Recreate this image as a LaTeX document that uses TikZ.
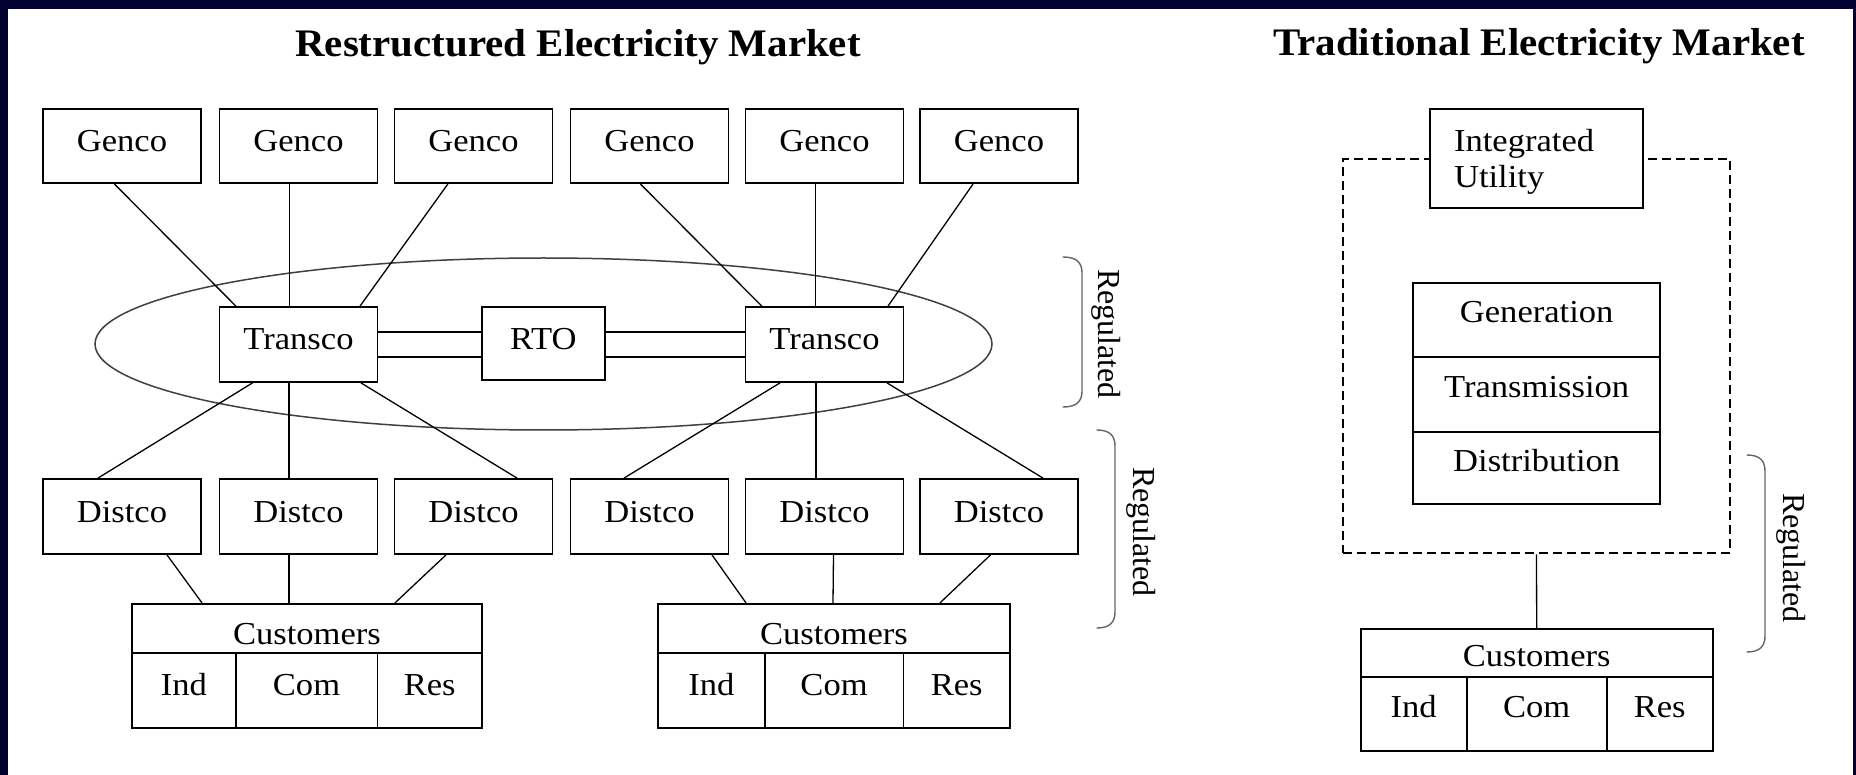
\documentclass[tikz,border=0pt]{standalone}
\usepackage{fontspec}
\setmainfont{Liberation Serif}[FakeStretch=1.08]
\newfontfamily\titlefont{Liberation Serif}[FakeStretch=1.05]
\newfontfamily\plainserif{Liberation Serif}
\definecolor{framenavy}{RGB}{2,0,46}
\begin{document}
\begin{tikzpicture}[x=1pt,y=-1pt,
  unitbox/.style={draw, line width=1.8pt, fill=white, inner sep=0pt,
    minimum width=158pt, minimum height=74pt, text height=22pt, text depth=11pt,
    font=\fontsize{32}{36}\selectfont},
  cellbox/.style={unitbox, minimum height=74.5pt, text height=20pt, text depth=11pt},
  headbox/.style={unitbox, minimum height=49pt, text height=34pt, text depth=2pt},
  link/.style={line width=1.3pt, black},
  brace/.style={line width=1.4pt, black!60, line cap=round},
  ring/.style={line width=1.5pt, black!75},
  title/.style={anchor=base, inner sep=0pt, font=\titlefont\bfseries\fontsize{39}{44}\selectfont},
  reglabel/.style={rotate=-90, anchor=base, inner sep=0pt, font=\plainserif\fontsize{32}{36}\selectfont},
  dashframe/.style={draw, line width=2pt, dash pattern=on 9pt off 5pt, inner sep=0pt}
]
% page frame
\fill[framenavy] (0,0) rectangle (1856,775);
\fill[white] (8,9) rectangle (1853,775);
\useasboundingbox (0,0) rectangle (1856,775);

% ---------------- restructured market ----------------
\node[title] (ttlR) at (578,56.7) {Restructured Electricity Market};

% regulated transmission region
\draw[ring] (543.5,344) ellipse [x radius=448.5, y radius=86];

% generation companies
\node[unitbox] (g1) at (122,146.2)   {Genco};
\node[unitbox] (g2) at (298.5,146.2) {Genco};
\node[unitbox] (g3) at (473.5,146.2) {Genco};
\node[unitbox] (g4) at (649.5,146.2) {Genco};
\node[unitbox] (g5) at (824.5,146.2) {Genco};
\node[unitbox] (g6) at (999,146.2)   {Genco};

% transmission companies and RTO
\node[unitbox, minimum height=75pt] (t1) at (298.5,344.5) {Transco};
\node[unitbox, minimum width=123.4pt, minimum height=73pt, text height=23pt, text depth=11pt] (rto) at (543.3,343.5) {RTO};
\node[unitbox, minimum height=75pt] (t2) at (824.5,344.5) {Transco};

% distribution companies
\node[unitbox, minimum height=75pt] (d1) at (122,516.5)   {Distco};
\node[unitbox, minimum height=75pt] (d2) at (298.5,516.5) {Distco};
\node[unitbox, minimum height=75pt] (d3) at (473.5,516.5) {Distco};
\node[unitbox, minimum height=75pt] (d4) at (649.5,516.5) {Distco};
\node[unitbox, minimum height=75pt] (d5) at (824.5,516.5) {Distco};
\node[unitbox, minimum height=75pt] (d6) at (999,516.5)   {Distco};

% customer blocks
\node[headbox, minimum width=350pt] (cu1) at (307,628.3) {Customers};
\node[cellbox, minimum width=103.7pt] (cu1i) at (183.85,690.5) {Ind};
\node[cellbox, minimum width=141.7pt] (cu1c) at (306.55,690.5) {Com};
\node[cellbox, minimum width=104.6pt] (cu1r) at (429.7,690.5) {Res};

\node[headbox, minimum width=352pt] (cu2) at (834,628.3) {Customers};
\node[cellbox, minimum width=106.6pt] (cu2i) at (711.3,690.5) {Ind};
\node[cellbox, minimum width=138.9pt] (cu2c) at (834.05,690.5) {Com};
\node[cellbox, minimum width=106.5pt] (cu2r) at (956.75,690.5) {Res};

% gencos to transcos
\draw[link] ([xshift=-7.5pt]g1.south)  -- ([xshift=-62.6pt]t1.north);
\draw[link] ([xshift=-9.2pt]g2.south)  -- ([xshift=-9.2pt]t1.north);
\draw[link] ([xshift=-25.7pt]g3.south) -- ([xshift=61.5pt]t1.north);
\draw[link] ([xshift=-9pt]g4.south)    -- ([xshift=-62.7pt]t2.north);
\draw[link] ([xshift=-9.2pt]g5.south)  -- ([xshift=-9.2pt]t2.north);
\draw[link] ([xshift=-26pt]g6.south)   -- ([xshift=63.5pt]t2.north);

% transcos linked through the RTO
\draw[link] ([yshift=12.5pt]t1.east) -- ([yshift=12.5pt]t1.east -| rto.west);
\draw[link] ([yshift=-12.5pt]t1.east) -- ([yshift=-12.5pt]t1.east -| rto.west);
\draw[link] ([yshift=12.5pt]t2.west) -- ([yshift=12.5pt]t2.west -| rto.east);
\draw[link] ([yshift=-12.5pt]t2.west) -- ([yshift=-12.5pt]t2.west -| rto.east);

% transcos to distcos
\draw[link] ([xshift=-46pt]t1.south)  -- ([xshift=-24pt]d1.north);
\draw[link] ([xshift=-9.5pt]t1.south) -- ([xshift=-9.5pt]d2.north);
\draw[link] ([xshift=62.5pt]t1.south) -- ([xshift=43.5pt]d3.north);
\draw[link] ([xshift=-44.5pt]t2.south) -- ([xshift=-25.5pt]d4.north);
\draw[link] ([xshift=-8.5pt]t2.south)  -- ([xshift=-8.5pt]d5.north);
\draw[link] ([xshift=62.5pt]t2.south)  -- ([xshift=44pt]d6.north);

% distcos to customers
\draw[link] ([xshift=45pt]d1.south)   -- ([xshift=-105pt]cu1.north);
\draw[link] ([xshift=-9.5pt]d2.south) -- ([xshift=-18pt]cu1.north);
\draw[link] ([xshift=-27.5pt]d3.south) -- ([xshift=88pt]cu1.north);
\draw[link] ([xshift=62.5pt]d4.south) -- ([xshift=-88pt]cu2.north);
\draw[link] ([xshift=9pt]d5.south)    -- ([xshift=-1pt]cu2.north);
\draw[link] ([xshift=-8.5pt]d6.south) -- ([xshift=106pt]cu2.north);

% regulated braces
\draw[brace] (1063,257) .. controls (1077,257) and (1082,263) .. (1082,273)
  -- (1082,391) .. controls (1082,401) and (1077,407) .. (1063,407);
\node[reglabel] (reg1) at (1098.5,334) {Regulated};
\draw[brace] (1097,430) .. controls (1110,430) and (1115,436) .. (1115,446)
  -- (1115,612) .. controls (1115,622) and (1110,628) .. (1097,628);
\node[reglabel] (reg2) at (1133.3,532) {Regulated};

% ---------------- traditional market ----------------
\node[title] (ttlT) at (1539,56) {Traditional Electricity Market};

\node[dashframe, minimum width=387pt, minimum height=394pt] (util) at (1536.5,356.3) {};
\node[unitbox, minimum width=212.7pt, minimum height=99.3pt, text width=164.7pt,
  align=left, text height=22pt, text depth=37pt] (iu) at (1536.4,158.65) {Integrated\\Utility};

\node[unitbox, minimum width=246.7pt, minimum height=74pt, text height=20pt, text depth=13.4pt] (gen) at (1536.7,319.7) {Generation};
\node[unitbox, minimum width=246.7pt, minimum height=75pt, text height=20pt, text depth=13.4pt] (trn) at (1536.7,394.2) {Transmission};
\node[unitbox, minimum width=246.7pt, minimum height=72.3pt, text height=20pt, text depth=12.4pt] (dst) at (1536.7,467.85) {Distribution};

\node[headbox, minimum width=352pt, minimum height=47.7pt, text height=30pt, text depth=2pt] (cu3) at (1536.7,652.85) {Customers};
\node[cellbox, minimum width=106pt, minimum height=74.3pt, text height=20pt, text depth=12.4pt] (cu3i) at (1413.7,713.85) {Ind};
\node[cellbox, minimum width=140pt, minimum height=74.3pt, text height=20pt, text depth=12.4pt] (cu3c) at (1536.7,713.85) {Com};
\node[cellbox, minimum width=106pt, minimum height=74.3pt, text height=20pt, text depth=12.4pt] (cu3r) at (1659.7,713.85) {Res};

\draw[link] (util.south) -- (cu3.north);

\draw[brace] (1747,455) .. controls (1760,455) and (1765,461) .. (1765,471)
  -- (1765,636) .. controls (1765,646) and (1760,652) .. (1747,652);
\node[reglabel] (reg3) at (1783,558) {Regulated};
\end{tikzpicture}
\end{document}
